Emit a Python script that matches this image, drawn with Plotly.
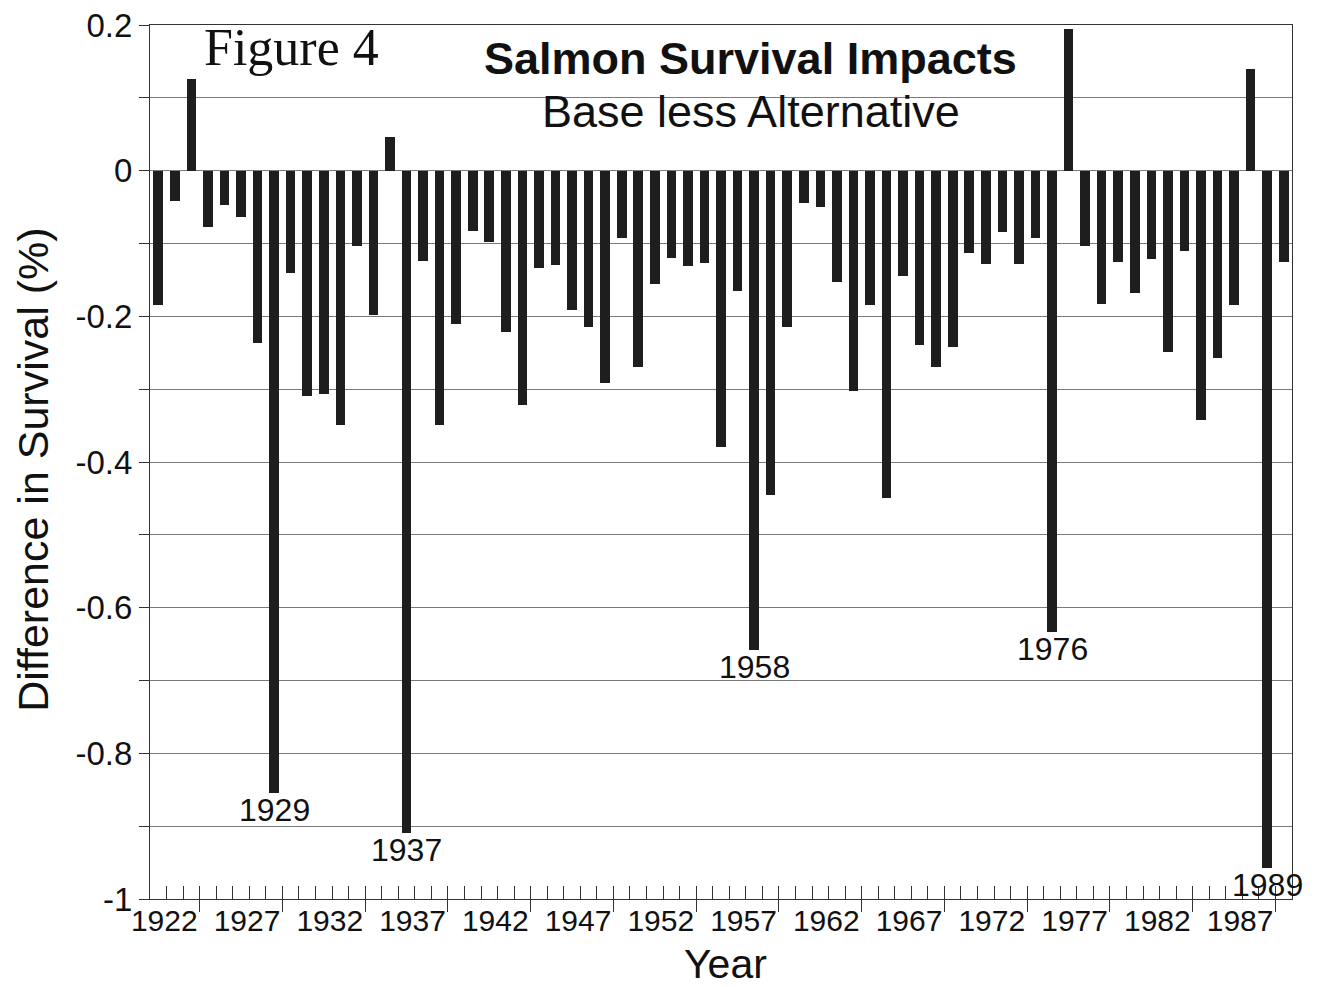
import plotly.graph_objects as go

# ---- data ----
years = list(range(1922, 1991))
diff = [
    -0.184, -0.042, 0.126, -0.078, -0.047, -0.064, -0.236, -0.855, -0.140, -0.309,  # 1922-1931
    -0.306, -0.349, -0.103, -0.198, 0.046, -0.910, -0.124, -0.349, -0.210, -0.083,   # 1932-1941
    -0.098, -0.221, -0.322, -0.134, -0.130, -0.191, -0.215, -0.291, -0.092, -0.270,  # 1942-1951
    -0.155, -0.120, -0.131, -0.127, -0.379, -0.165, -0.658, -0.445, -0.214, -0.044,  # 1952-1961
    -0.050, -0.153, -0.303, -0.184, -0.450, -0.144, -0.240, -0.270, -0.242, -0.113,  # 1962-1971
    -0.128, -0.084, -0.128, -0.092, -0.634, 0.194, -0.103, -0.183, -0.126, -0.168,   # 1972-1981
    -0.121, -0.249, -0.110, -0.342, -0.257, -0.184, 0.139, -0.957, -0.126,           # 1982-1990
]
label_years = list(range(1922, 1988, 5))
highlight_years = [1929, 1937, 1958, 1976, 1989]
ytick_vals = [-1.0, -0.9, -0.8, -0.7, -0.6, -0.5, -0.4, -0.3, -0.2, -0.1, 0.0, 0.1, 0.2]
ytick_text = ["-1", "", "-0.8", "", "-0.6", "", "-0.4", "", "-0.2", "", "0", "", "0.2"]

# tick positions between categories
boundaries = [y - 0.5 for y in years] + [years[-1] + 0.5]
major_boundaries = [y + 2.5 for y in label_years]
xrange_ = [years[0] - 0.5, years[-1] + 0.5]

SANS = "Liberation Sans, Arial, Helvetica, sans-serif"
SERIF = "Liberation Serif, Times New Roman, serif"
INK = "#111111"
AXIS = "#333333"
GRID = "#7a7a7a"

fig = go.Figure()
fig.add_trace(go.Bar(
    x=years, y=diff, width=0.58,
    marker=dict(color="#1e1e1e", line=dict(width=0)),
    hoverinfo="x+y", showlegend=False,
))
# invisible companion trace so the overlaid tick axis (x2) is drawn
fig.add_trace(go.Scatter(
    x=years, y=diff, xaxis="x2", yaxis="y", mode="markers",
    marker=dict(opacity=0), hoverinfo="skip", showlegend=False,
))

annotations = []
for yr in highlight_years:
    v = diff[years.index(yr)]
    annotations.append(dict(
        x=yr, y=v, xref="x", yref="y", text=str(yr), showarrow=False,
        yanchor="top", xanchor="center", yshift=3,
        font=dict(family=SANS, size=32, color=INK),
    ))

annotations += [
    dict(text="Figure 4", xref="paper", yref="paper", x=0.1239, y=0.9748,
         xanchor="center", yanchor="middle", showarrow=False,
         font=dict(family=SERIF, size=52, color=INK)),
    dict(text="<b>Salmon Survival Impacts</b>", xref="paper", yref="paper", x=0.526, y=0.9611,
         xanchor="center", yanchor="middle", showarrow=False,
         font=dict(family=SANS, size=45, color=INK)),
    dict(text="Base less Alternative", xref="paper", yref="paper", x=0.526, y=0.9005,
         xanchor="center", yanchor="middle", showarrow=False,
         font=dict(family=SANS, size=45, color=INK)),
    # axis titles
    dict(text="Year", xref="paper", yref="paper", x=0.504, y=-0.0738,
         xanchor="center", yanchor="middle", showarrow=False,
         font=dict(family=SANS, size=41, color=INK)),
    dict(text="Difference in Survival (%)", xref="paper", yref="paper", x=-0.1025, y=0.491,
         xanchor="center", yanchor="middle", showarrow=False, textangle=-90,
         font=dict(family=SANS, size=43, color=INK)),
]

# the page adds an 8px body margin, so the figure is sized to fill the rest of the window
fig.update_layout(
    width=1314, height=979,
    margin=dict(l=142, r=30, t=17, b=88, autoexpand=False),
    paper_bgcolor="white", plot_bgcolor="white",
    bargap=0,
    showlegend=False,
    annotations=annotations,
    xaxis=dict(
        range=xrange_, tickmode="array", tickvals=label_years,
        ticktext=[str(v) for v in label_years],
        ticks="", ticklabelstandoff=-5, ticklabelshift=6,
        tickfont=dict(family=SANS, size=30, color=INK),
        ticklabeloverflow="allow",
        showgrid=False, zeroline=False, automargin=False,
        showline=True, linecolor=AXIS, linewidth=1, mirror=True,
        minor=dict(tickmode="array", tickvals=major_boundaries, ticks="outside",
                   ticklen=12, tickcolor=AXIS, tickwidth=1, showgrid=False),
    ),
    xaxis2=dict(
        overlaying="x", anchor="y", side="bottom", range=xrange_,
        tickmode="array", tickvals=boundaries, ticks="inside", ticklen=13,
        tickcolor=AXIS, tickwidth=1, showticklabels=False, automargin=False,
        showgrid=False, zeroline=False, showline=False,
    ),
    yaxis=dict(
        range=[-1.0, 0.2], tickmode="array", tickvals=ytick_vals, ticktext=ytick_text,
        ticks="outside", ticklen=10, tickcolor=AXIS, tickwidth=1,
        tickfont=dict(family=SANS, size=33, color=INK), ticklabelstandoff=0,
        ticklabeloverflow="allow",
        showgrid=True, gridcolor=GRID, gridwidth=1,
        zeroline=False, automargin=False,
        showline=True, linecolor=AXIS, linewidth=1, mirror=True,
    ),
)

fig.write_html("out.html")
